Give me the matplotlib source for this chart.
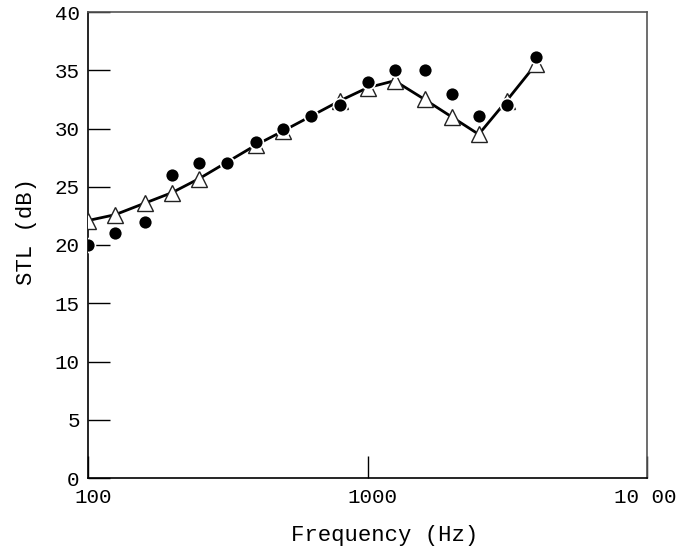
import matplotlib
matplotlib.use("Agg")
import matplotlib.pyplot as plt
import matplotlib.transforms as mtransforms

# One-third octave band centre frequencies (Hz)
freq_measured = [100, 125, 160, 200, 250, 315, 400, 500, 630, 800,
                 1000, 1250, 1600, 2000, 2500, 3150, 4000]
stl_measured = [20.0, 21.0, 22.0, 26.0, 27.0, 27.0, 28.8, 30.0, 31.1, 32.0,
                34.0, 35.0, 35.0, 33.0, 31.1, 32.0, 36.1]

freq_predicted = [100, 125, 160, 200, 250, 400, 500, 800,
                  1000, 1250, 1600, 2000, 2500, 3150, 4000]
stl_predicted = [22.1, 22.6, 23.6, 24.5, 25.7, 28.6, 29.8, 32.4,
                 33.5, 34.1, 32.5, 31.0, 29.5, 32.4, 35.5]

x_ticks = [100, 1000, 10000]
x_tick_labels = ["100", "1000", "10 000"]
y_ticks = [0, 5, 10, 15, 20, 25, 30, 35, 40]

plt.rcParams['font.family'] = ['Liberation Mono', 'DejaVu Sans Mono']

fig = plt.figure(figsize=(6.76, 5.5), dpi=100)
ax = fig.add_axes([88 / 676, 72 / 550, (647 - 88) / 676, (478 - 12) / 550])

ax.plot(freq_predicted, stl_predicted, color='black', lw=2.0,
        marker='^', markersize=11, markerfacecolor='white',
        markeredgecolor='#222222', markeredgewidth=1.0, zorder=3)
ax.plot(freq_measured, stl_measured, linestyle='none', marker='o',
        markersize=10, markerfacecolor='black', markeredgecolor='white',
        markeredgewidth=1.2, zorder=4)

ax.set_xscale('log')
ax.set_xlim(100, 10000)
ax.set_ylim(0, 40)
ax.set_xticks(x_ticks)
ax.set_xticklabels(x_tick_labels)
ax.xaxis.set_minor_locator(matplotlib.ticker.NullLocator())
ax.set_yticks(y_ticks)
ax.set_yticklabels([str(v) for v in y_ticks])

ax.tick_params(axis='both', direction='in', length=16, width=1.0,
               labelsize=15, colors='black')
ax.tick_params(axis='y', pad=6)
ax.tick_params(axis='x', pad=7)

# nudge the frequency labels slightly to the right
shift = mtransforms.ScaledTranslation(5 / 100, 0, fig.dpi_scale_trans)
for lbl in ax.get_xticklabels():
    lbl.set_transform(lbl.get_transform() + shift)

for side in ('left', 'bottom'):
    ax.spines[side].set_color('black')
    ax.spines[side].set_linewidth(1.2)
for side in ('top', 'right'):
    ax.spines[side].set_color('#555555')
    ax.spines[side].set_linewidth(1.2)

ax.set_xlabel('Frequency (Hz)', fontsize=16, labelpad=13)
ax.set_ylabel('STL (dB)', fontsize=16, labelpad=13)
ax.xaxis.label.set_x(0.53)
ax.yaxis.label.set_y(0.528)

fig.savefig('out.png', dpi=100)
